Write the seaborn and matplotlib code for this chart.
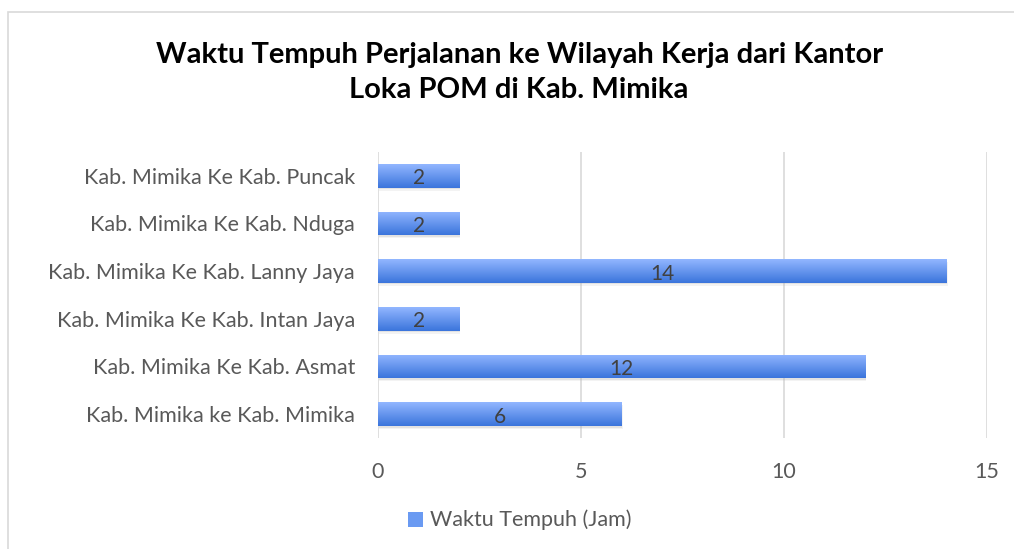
import numpy as np
import pandas as pd
import seaborn as sns
import matplotlib.pyplot as plt
from matplotlib.patches import Rectangle
from matplotlib.colors import LinearSegmentedColormap

# Data
routes = [
    'Kab. Mimika Ke Kab. Puncak',
    'Kab. Mimika Ke Kab. Nduga',
    'Kab. Mimika Ke Kab. Lanny Jaya',
    'Kab. Mimika Ke Kab. Intan Jaya',
    'Kab. Mimika Ke Kab. Asmat',
    'Kab. Mimika ke Kab. Mimika',
]
hours = [2, 2, 14, 2, 12, 6]
x_ticks = [0, 5, 10, 15]

df = pd.DataFrame({'Rute': routes, 'Waktu Tempuh (Jam)': hours})

sns.set_style('white')
plt.rcParams['font.family'] = ['Lato', 'DejaVu Sans']

fig = plt.figure(figsize=(10.14, 5.49), dpi=100)
ax = fig.add_axes([0.3728, 0.2022, 0.6006, 0.521])

sns.barplot(data=df, y='Rute', x='Waktu Tempuh (Jam)', orient='h',
            color='#5b8ff0', width=0.5, linewidth=0, ax=ax, zorder=2)

# gradient fill + soft shadow like the Excel original
grad = LinearSegmentedColormap.from_list('g', ['#92b6ff', '#3b75dc'])
for p in list(ax.patches):
    x0, y0 = p.get_x(), p.get_y()
    w, h = p.get_width(), p.get_height()
    for k, a in [(0.03, 0.25), (0.06, 0.15)]:
        ax.add_patch(Rectangle((x0 + k * 0.5, y0 + k), w, h, color='#b0b0b0',
                               alpha=a, zorder=1, lw=0))
    im = ax.imshow(np.linspace(0, 1, 50).reshape(-1, 1), cmap=grad,
                   extent=[x0, x0 + w, y0 + h, y0], aspect='auto', zorder=3)
    im.set_clip_path(p)
    ax.text(x0 + w / 2, y0 + h / 2 + 0.05, f'{w:g}', ha='center', va='center',
            fontsize=15, color='#404040', zorder=4)

ax.set_xlim(0, 15)
ax.set_ylim(5.5, -0.5)
ax.set_xticks(x_ticks)
ax.xaxis.grid(True, color='#d9d9d9', lw=1.2, zorder=0)
ax.set_axisbelow(True)
for s in ax.spines.values():
    s.set_visible(False)
ax.set_xlabel('')
ax.set_ylabel('')
ax.tick_params(axis='both', length=0, labelsize=15.5, labelcolor='#595959')
ax.tick_params(axis='x', pad=17)
ax.tick_params(axis='y', pad=16.5)

fig.text(0.512, 0.868, 'Waktu Tempuh Perjalanan ke Wilayah Kerja dari Kantor\nLoka POM di Kab. Mimika',
         ha='center', va='center', fontsize=21, fontweight='bold', color='black',
         linespacing=1.45)

# legend
fig.patches.append(Rectangle((0.402, 0.040), 0.015, 0.027, transform=fig.transFigure,
                             facecolor='#6a9af2', edgecolor='none'))
fig.text(0.424, 0.053, 'Waktu Tempuh (Jam)', ha='left', va='center',
         fontsize=15.5, color='#595959')

# chart border
fig.patches.append(Rectangle((0.008, -0.1), 1.1, 1.078, transform=fig.transFigure,
                             facecolor='none', edgecolor='#d9d9d9', lw=1.2))

fig.savefig('out.png', dpi=100)
